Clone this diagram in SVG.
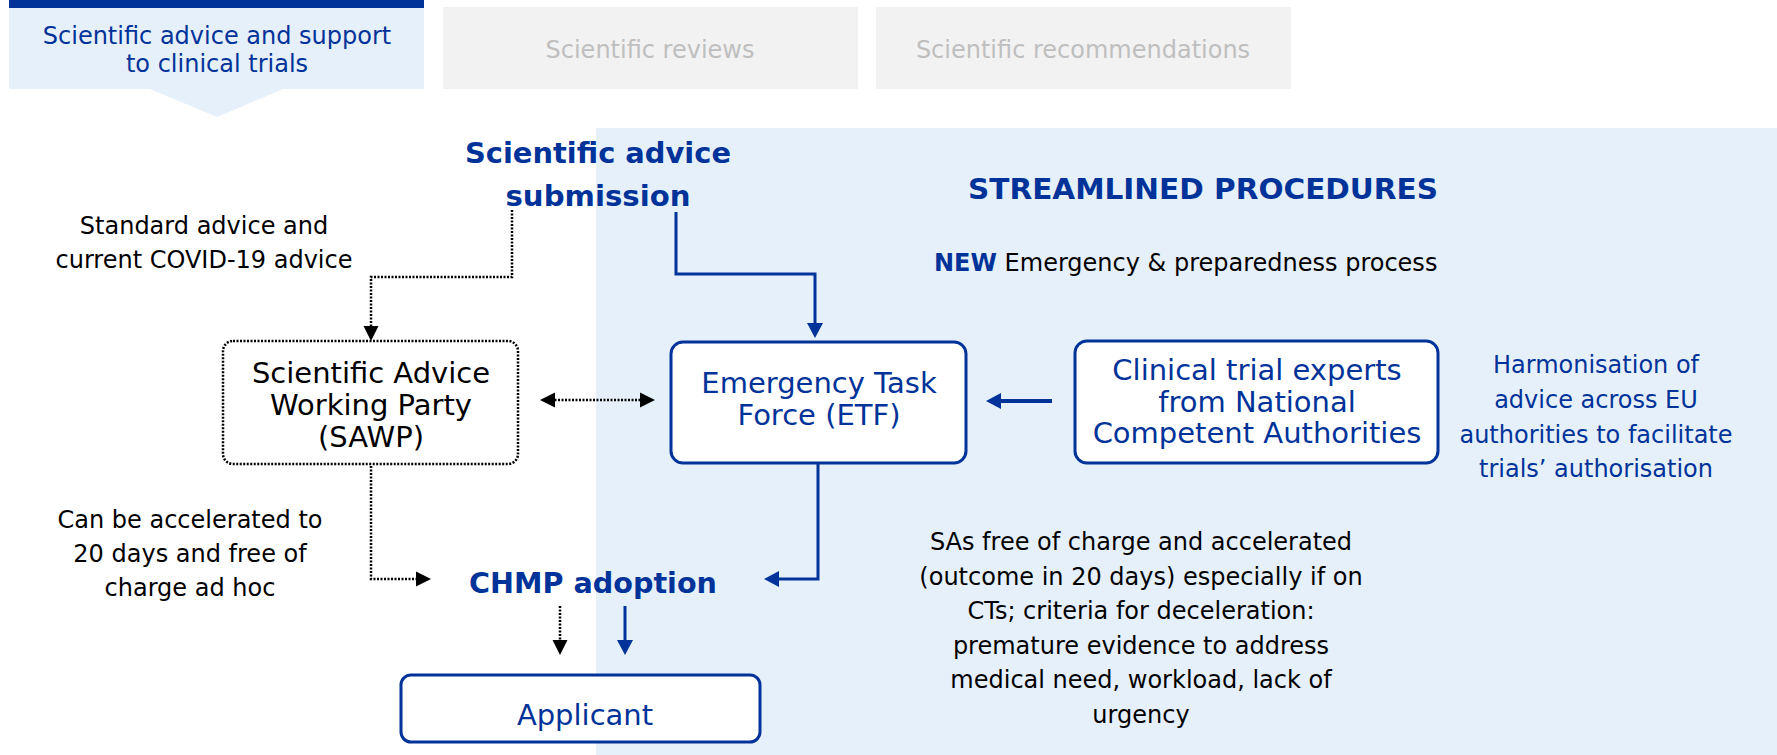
<svg xmlns="http://www.w3.org/2000/svg" width="1777" height="755" viewBox="0 0 1777 755">
  <defs>
    <style>
      text { font-family: "DejaVu Sans", Verdana, "Liberation Sans", sans-serif; }
      .t24 { font-size: 24px; fill: #000000; text-anchor: middle; }
      .blue24 { font-size: 24px; fill: #003399; text-anchor: middle; }
      .grey24 { font-size: 24px; fill: #BFBFBF; text-anchor: middle; }
      .node { font-size: 29px; text-anchor: middle; }
      .head { font-size: 29px; font-weight: bold; fill: #003399; text-anchor: middle; }
      .box { fill: #FFFFFF; stroke: #003399; stroke-width: 3; }
      .dbox { fill: #FFFFFF; stroke: #000000; stroke-width: 2.5; stroke-dasharray: 2 1.5; }
      .dot { fill: none; stroke: #000000; stroke-width: 2.5; stroke-dasharray: 2 1.5; }
      .sol { fill: none; stroke: #003399; stroke-width: 3; }
    </style>
    <marker id="ab" markerUnits="userSpaceOnUse" markerWidth="16" markerHeight="16" refX="11" refY="8" orient="auto-start-reverse">
      <path d="M0,0.5 L15,8 L0,15.5 z" fill="#000000"/>
    </marker>
    <marker id="au" markerUnits="userSpaceOnUse" markerWidth="16" markerHeight="17" refX="11" refY="8.5" orient="auto-start-reverse">
      <path d="M0,0.5 L15,8.5 L0,16.5 z" fill="#003399"/>
    </marker>
  </defs>

  <!-- background panel -->
  <rect x="596" y="128" width="1181" height="627" fill="#E6F0FA"/>

  <!-- tabs -->
  <g id="tab1">
    <rect x="9" y="0" width="415" height="8" fill="#003399"/>
    <rect x="9" y="8" width="415" height="81" fill="#E6F0FA"/>
    <polygon points="150,89 283,89 217,117" fill="#E6F0FA"/>
    <text class="blue24" x="217" y="44">Scientific advice and support</text>
    <text class="blue24" x="217" y="72">to clinical trials</text>
  </g>
  <g id="tab2">
    <rect x="443" y="7" width="415" height="82" fill="#F2F2F2"/>
    <text class="grey24" x="650" y="58">Scientific reviews</text>
  </g>
  <g id="tab3">
    <rect x="876" y="7" width="415" height="82" fill="#F2F2F2"/>
    <text class="grey24" x="1083" y="58">Scientific recommendations</text>
  </g>

  <!-- connectors -->
  <g id="connectors">
    <path class="dot" d="M512,210 V277 H371 V337" marker-end="url(#ab)"/>
    <path class="sol" d="M676,212 V274 H815 V334" marker-end="url(#au)"/>
    <path class="dot" d="M544,400 H651" marker-start="url(#ab)" marker-end="url(#ab)"/>
    <path class="dot" d="M371,466 V579 H427" marker-end="url(#ab)"/>
    <path class="sol" d="M818,464 V579 H768" marker-end="url(#au)"/>
    <path class="dot" d="M560,606 V651" marker-end="url(#ab)"/>
    <path class="sol" d="M625,606 V651" marker-end="url(#au)"/>
    <path class="sol" d="M1052,401 H990" style="stroke-width:4" marker-end="url(#au)"/>
  </g>

  <!-- labels -->
  <g id="submission">
    <text class="head" x="598" y="163" textLength="266" lengthAdjust="spacingAndGlyphs">Scientific advice</text>
    <text class="head" x="598" y="206" textLength="185" lengthAdjust="spacingAndGlyphs">submission</text>
  </g>
  <g id="streamlined">
    <text class="head" x="1203" y="199" textLength="470" lengthAdjust="spacingAndGlyphs">STREAMLINED PROCEDURES</text>
  </g>
  <g id="new-process">
    <text x="934" y="271" style="font-size:24px;fill:#000000"><tspan style="font-weight:bold;fill:#003399">NEW</tspan> Emergency &amp; preparedness process</text>
  </g>
  <g id="standard-note">
    <text class="t24" x="204" y="234">Standard advice and</text>
    <text class="t24" x="204" y="268">current COVID-19 advice</text>
  </g>

  <g id="sawp">
    <rect class="dbox" x="223" y="341" width="295" height="123" rx="10"/>
    <text class="node" x="371" y="383" fill="#000000">Scientific Advice</text>
    <text class="node" x="371" y="415" fill="#000000">Working Party</text>
    <text class="node" x="371" y="447" fill="#000000">(SAWP)</text>
  </g>
  <g id="etf">
    <rect class="box" x="671" y="342" width="295" height="121" rx="12"/>
    <text class="node" x="819" y="393" fill="#003399">Emergency Task</text>
    <text class="node" x="819" y="425" fill="#003399">Force (ETF)</text>
  </g>
  <g id="nca">
    <rect class="box" x="1075" y="341" width="363" height="122" rx="12"/>
    <text class="node" x="1257" y="380" fill="#003399">Clinical trial experts</text>
    <text class="node" x="1257" y="412" fill="#003399">from National</text>
    <text class="node" x="1257" y="443" fill="#003399">Competent Authorities</text>
  </g>
  <g id="harmonisation">
    <text class="blue24" x="1596" y="373">Harmonisation of</text>
    <text class="blue24" x="1596" y="408">advice across EU</text>
    <text class="blue24" x="1596" y="443">authorities to facilitate</text>
    <text class="blue24" x="1596" y="477">trials’ authorisation</text>
  </g>
  <g id="accel-note">
    <text class="t24" x="190" y="528">Can be accelerated to</text>
    <text class="t24" x="190" y="562">20 days and free of</text>
    <text class="t24" x="190" y="596">charge ad hoc</text>
  </g>
  <g id="chmp">
    <text class="head" x="593" y="593" textLength="248" lengthAdjust="spacingAndGlyphs">CHMP adoption</text>
  </g>
  <g id="sas-note">
    <text class="t24" x="1141" y="550">SAs free of charge and accelerated</text>
    <text class="t24" x="1141" y="584.5">(outcome in 20 days) especially if on</text>
    <text class="t24" x="1141" y="619">CTs; criteria for deceleration:</text>
    <text class="t24" x="1141" y="653.5">premature evidence to address</text>
    <text class="t24" x="1141" y="688">medical need, workload, lack of</text>
    <text class="t24" x="1141" y="722.5">urgency</text>
  </g>
  <g id="applicant">
    <rect class="box" x="401" y="675" width="359" height="67" rx="10"/>
    <text class="node" x="585" y="725" fill="#003399">Applicant</text>
  </g>
</svg>
